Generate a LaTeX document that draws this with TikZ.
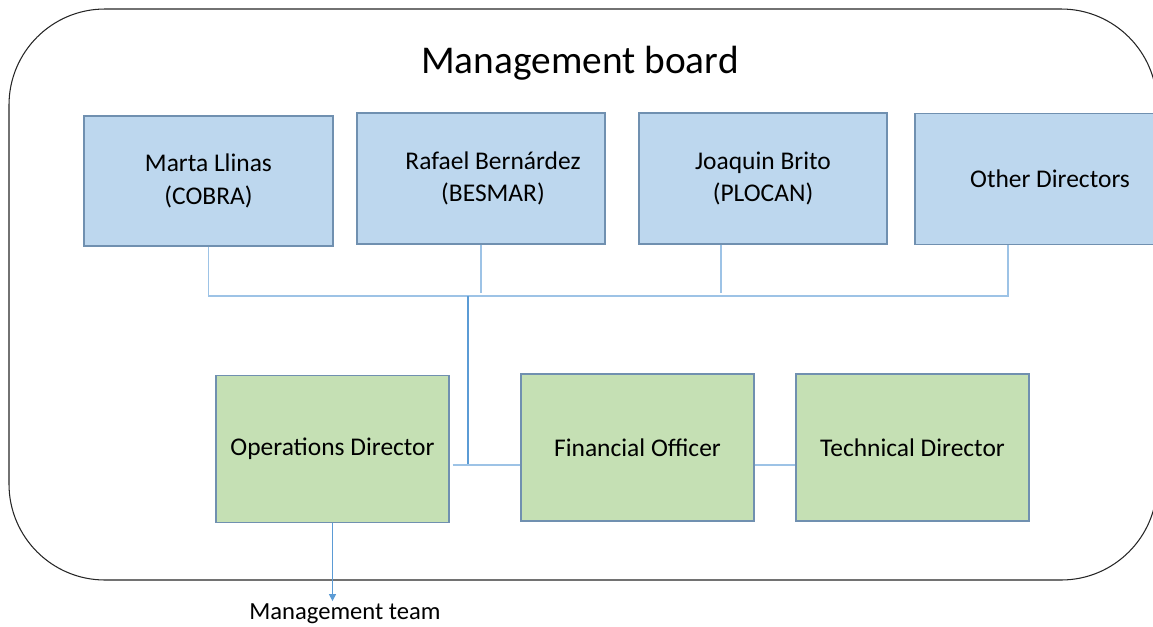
\documentclass[tikz,border=0pt]{standalone}
\usepackage{fontspec}
\setmainfont{Carlito}
\usetikzlibrary{positioning,arrows.meta}

\definecolor{dirfill}{HTML}{BDD7EE}
\definecolor{offfill}{HTML}{C5E0B4}
\definecolor{boxline}{HTML}{7090B0}
\definecolor{busline}{HTML}{9DC3E6}
\definecolor{linkline}{HTML}{5B9BD5}

\tikzset{
  director/.style={draw=boxline, line width=0.8pt, fill=dirfill, align=center,
    minimum width=4.96cm, minimum height=2.62cm, inner sep=0pt,
    font=\fontsize{14.5}{18.5}\selectfont},
  officer/.style={director, fill=offfill, minimum width=4.66cm, minimum height=2.94cm},
  bus/.style={busline, line width=1.1pt},
  link/.style={linkline, line width=0.6pt}
}

\begin{document}
\begin{tikzpicture}[x=0.02cm, y=-0.02cm]

\useasboundingbox (0,0) rectangle (1153,626);
\clip (0,0) rectangle (1153,626);

% ======================================
% THE BOARD FRAME
% ======================================
\draw[black!85, line width=0.6pt, rounded corners=1.92cm] (9,9) rectangle (1157,580);
\node[font=\fontsize{22.4}{26}\selectfont, anchor=base] (title) at (580,73) {Management board};

% ======================================
% ROW 1 (BLUE): DIRECTORS
% ======================================
\node[director, minimum width=4.98cm, minimum height=2.6cm] (marta) at (208.5,181) {Marta Llinas\\(COBRA)};
\node[director] (rafael) at (481,178.5) {\hspace*{0.48cm}Rafael Bernárdez\\\hspace*{0.48cm}(BESMAR)};
\node[director] (joaquin) at (763,178.5) {Joaquin Brito\\(PLOCAN)};
\node[director, minimum width=5.4cm] (other) at (1050,179) {Other Directors};

\coordinate (bus) at (468,296);
\coordinate (joaquindrop) at ([xshift=-0.84cm]joaquin.south);
\coordinate (otherdrop) at ([xshift=-0.84cm]other.south);

\draw[bus] (marta.south) -- (marta.south |- bus) -- (otherdrop |- bus) -- (otherdrop);
\draw[bus] (rafael.south) -- ([yshift=0.06cm]rafael.south |- bus);
\draw[bus] (joaquindrop) -- ([yshift=0.06cm]joaquindrop |- bus);

% ======================================
% ROW 2 (GREEN): OFFICERS
% ======================================
\node[officer] (ops) at (332.5,449) {Operations Director};
\node[officer] (fin) at (637.5,447.5) {Financial Officer};
\node[officer] (tech) at (912.5,447.5) {Technical Director};

\coordinate (join) at (468,465);
\draw[link] (bus) -- (join);
\draw[bus] ([xshift=0.06cm]ops.east |- join) -- (fin.west |- join);
\draw[bus] (fin.east |- join) -- (tech.west |- join);

% ======================================
% DOWN TO THE TEAM
% ======================================
\node[font=\fontsize{14}{16}\selectfont, anchor=base, inner sep=1pt] (mteam) at (345,619) {Management team};
\draw[link, -{Triangle[length=4pt, width=4pt]}] (ops.south) -- (ops.south |- mteam.north);

\end{tikzpicture}
\end{document}
